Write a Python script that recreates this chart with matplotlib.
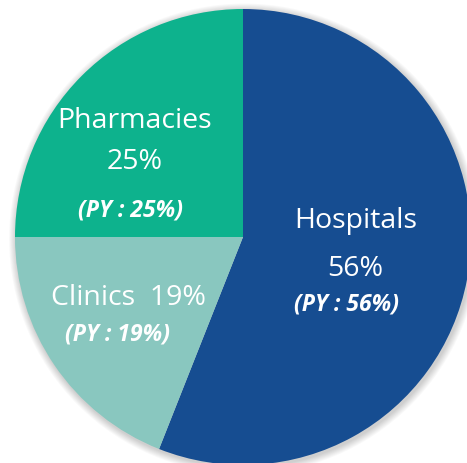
import matplotlib.pyplot as plt
from matplotlib.patches import Circle

labels = ['Hospitals', 'Clinics', 'Pharmacies']
shares = [56, 19, 25]
py_shares = [56, 19, 25]
colors = ['#164D91', '#89C7BF', '#0DB28D']

W, H = 467, 463
cx, cy, r = 243, 237, 228

fig = plt.figure(figsize=(W / 100, H / 100), dpi=100)
ax = fig.add_axes([0, 0, 1, 1])

# soft shadow
for i in range(8):
    ax.add_patch(Circle((0.006, -0.008), 1 + 0.004 * (i + 1), color='black',
                        alpha=0.025, lw=0, zorder=0))

ax.pie(shares, colors=colors, startangle=90, counterclock=False, radius=1,
       wedgeprops=dict(linewidth=0), frame=True)
ax.set_xlim(-cx / r, (W - cx) / r)
ax.set_ylim(-(H - cy) / r, cy / r)
ax.set_aspect('equal')
ax.axis('off')

font = 'Open Sans'
def px(x, y):
    return ((x - cx) / r, (cy - y) / r)

txt = dict(color='white', ha='center', va='center', family=font)
big = dict(fontsize=20.5, weight='medium', **txt)
small = dict(fontsize=16.5, weight='bold', style='italic', **txt)
ax.text(*px(135, 121), labels[2], **big)
ax.text(*px(135, 162), f'{shares[2]}%', **big)
ax.text(*px(130, 211), f'(PY : {py_shares[2]}%)', **small)
ax.text(*px(128, 298), f'{labels[1]}  {shares[1]}%', **big)
ax.text(*px(117, 334), f'(PY : {py_shares[1]}%)', **small)
ax.text(*px(356, 221), labels[0], **big)
ax.text(*px(355, 269), f'{shares[0]}%', **big)
ax.text(*px(346, 305), f'(PY : {py_shares[0]}%)', **small)

fig.savefig('out.png', dpi=100)
